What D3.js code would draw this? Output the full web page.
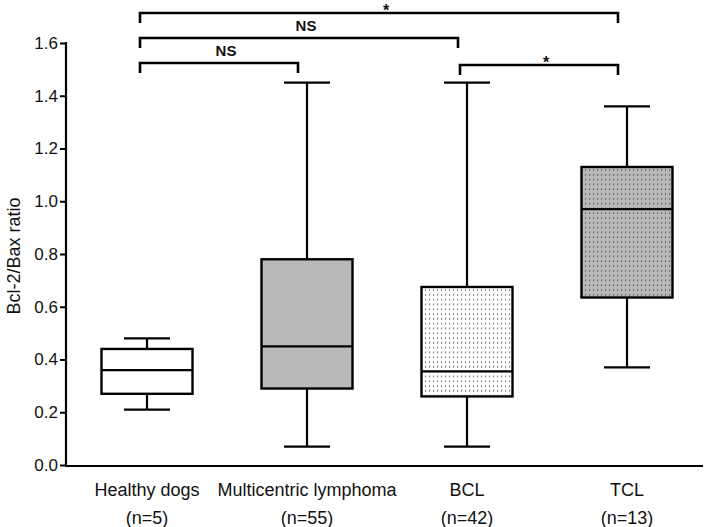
<!DOCTYPE html>
<html><head><meta charset="utf-8">
<script src="https://cdn.jsdelivr.net/npm/d3@7"></script>
<style>body{margin:0;background:#fff}svg{display:block}text{font-family:"Liberation Sans",Arial,sans-serif}</style>
</head><body><svg id="c" width="709" height="527"></svg>
<script>
const categories = ["Healthy dogs","Multicentric lymphoma","BCL","TCL"];
const nLabels = ["(n=5)","(n=55)","(n=42)","(n=13)"];
const whiskerMax = [0.48, 1.45, 1.45, 1.36];
const q3 = [0.44, 0.78, 0.675, 1.13];
const medians = [0.36, 0.45, 0.355, 0.97];
const q1 = [0.27, 0.29, 0.26, 0.635];
const whiskerMin = [0.21, 0.07, 0.07, 0.37];
const fills = ["white","gray","white-dots","gray-dots"];
const yTicks = [0,0.2,0.4,0.6,0.8,1.0,1.2,1.4,1.6];
// comparisons: from index, to index, label, bracket level (px from top)
const compFrom = [0, 0, 0, 2];
const compTo = [3, 2, 1, 3];
const compLabel = ["*","NS","NS","*"];
const compLevel = [13, 38, 63, 65];

const svg = d3.select("#c");
const x = d3.scaleBand().domain(categories).range([67, 707]);
const y = d3.scaleLinear().domain([0,1.6]).range([465, 43]);
const FONT = "'Liberation Sans',Arial,sans-serif";

const defs = svg.append("defs");
function dotPattern(id, bg){
  const p = defs.append("pattern").attr("id",id).attr("patternUnits","userSpaceOnUse")
    .attr("width",4).attr("height",4.8);
  p.append("rect").attr("width",4).attr("height",4.8).attr("fill",bg);
  p.append("rect").attr("x",1).attr("y",1.5).attr("width",1.1).attr("height",1.1).attr("fill","#333");
}
dotPattern("dw","#ffffff");
dotPattern("dg","#b9b9b9");
const fillMap = {"white":"#ffffff","gray":"#b9b9b9","white-dots":"url(#dw)","gray-dots":"url(#dg)"};

// y axis
const yAxis = d3.axisLeft(y).tickValues(yTicks).tickFormat(d3.format(".1f")).tickSize(6).tickSizeOuter(0);
const gy = svg.append("g").attr("transform","translate(66,0)").call(yAxis);
gy.select(".domain").attr("stroke","#000").attr("stroke-width",2.2).attr("d","M0,"+(y(1.6)-1)+"V"+(y(0)+1));
gy.selectAll(".tick line").attr("stroke","#000").attr("stroke-width",2);
gy.selectAll(".tick text").attr("font-size",17).attr("fill","#111").attr("x",-8)
  .style("font-family",FONT);

// x axis
const xAxis = d3.axisBottom(x).tickSize(0).tickSizeOuter(0);
const gx = svg.append("g").attr("transform","translate(0,466)").call(xAxis);
gx.select(".domain").attr("stroke","#000").attr("stroke-width",2.2).attr("d","M65,0H703");
gx.selectAll(".tick text").attr("font-size",18).attr("fill","#111").attr("y",17)
  .style("font-family",FONT).attr("dy","0.71em");
gx.selectAll(".tick").append("text").text((d,i)=>nLabels[i]).attr("fill","#111")
  .attr("font-size",18).attr("y",45).attr("dy","0.71em").attr("text-anchor","middle")
  .style("font-family",FONT);

// y title
svg.append("text").attr("transform","translate(20,256) rotate(-90)").attr("text-anchor","middle")
  .attr("font-size",18).attr("fill","#111").text("Bcl-2/Bax ratio");

// boxes
const bw = 91;
const g = svg.append("g");
categories.forEach((c,i)=>{
  const cx = x(c) + x.bandwidth()/2;
  const ln = (x1,x2,y1,y2)=>g.append("line").attr("x1",x1).attr("x2",x2).attr("y1",y1).attr("y2",y2)
    .attr("stroke","#000").attr("stroke-width",2.2);
  ln(cx,cx,y(whiskerMax[i]),y(q3[i]));
  ln(cx,cx,y(q1[i]),y(whiskerMin[i]));
  ln(cx-23,cx+23,y(whiskerMax[i]),y(whiskerMax[i]));
  ln(cx-23,cx+23,y(whiskerMin[i]),y(whiskerMin[i]));
  g.append("rect").attr("x",cx-bw/2).attr("width",bw).attr("y",y(q3[i])).attr("height",y(q1[i])-y(q3[i]))
    .attr("fill",fillMap[fills[i]]).attr("stroke","#000").attr("stroke-width",2.4);
  ln(cx-bw/2,cx+bw/2,y(medians[i]),y(medians[i]));
});

// significance brackets
const bg = svg.append("g");
compFrom.forEach((f,i)=>{
  const x1 = x(categories[f]) + x.bandwidth()/2 - 7;
  const x2 = x(categories[compTo[i]]) + x.bandwidth()/2 - 9;
  const ly = compLevel[i];
  bg.append("path").attr("d",`M${x1},${ly+10}V${ly}H${x2}V${ly+10}`).attr("fill","none")
    .attr("stroke","#000").attr("stroke-width",2.6);
  const isStar = compLabel[i]==="*";
  bg.append("text").attr("x",(x1+x2)/2+7).attr("y", isStar ? ly+3 : ly-7)
    .attr("text-anchor","middle").attr("font-weight","bold")
    .attr("font-size", isStar ? 16 : 15).attr("fill","#111").text(compLabel[i]);
});
</script></body></html>
